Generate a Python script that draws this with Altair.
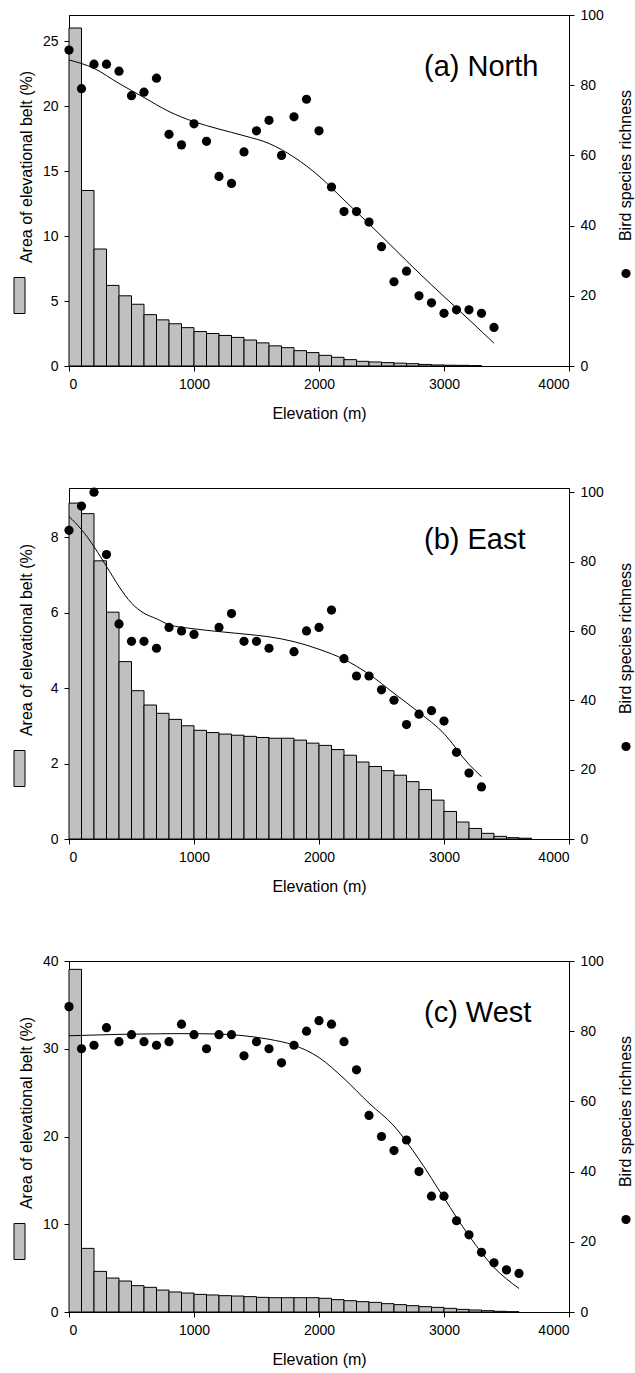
import altair as alt
import pandas as pd

FONT = "Liberation Sans"

# ---------------- data ----------------
# Area of elevational belt (%), 100 m belts starting at 0 m
north_area = [26.0, 13.5, 9.0, 6.2, 5.4, 4.75, 3.95, 3.55, 3.25, 2.95, 2.65, 2.5, 2.35, 2.2,
              2.0, 1.78, 1.55, 1.41, 1.18, 1.03, 0.82, 0.67, 0.49, 0.36, 0.31, 0.26, 0.22,
              0.18, 0.12, 0.08, 0.06, 0.05, 0.03]
east_area = [8.9, 8.62, 7.37, 6.01, 4.70, 3.93, 3.55, 3.33, 3.17, 3.0, 2.88, 2.82, 2.78, 2.75,
             2.72, 2.69, 2.67, 2.67, 2.62, 2.54, 2.48, 2.37, 2.22, 2.04, 1.92, 1.81, 1.69,
             1.52, 1.31, 1.03, 0.73, 0.45, 0.28, 0.15, 0.07, 0.035, 0.02]
west_area = [39.05, 7.25, 4.63, 3.87, 3.53, 3.0, 2.81, 2.5, 2.28, 2.16, 2.01, 1.94, 1.86, 1.82,
             1.75, 1.67, 1.63, 1.63, 1.63, 1.63, 1.56, 1.41, 1.29, 1.18, 1.10, 0.95, 0.84,
             0.72, 0.61, 0.53, 0.42, 0.30, 0.23, 0.15, 0.08, 0.03]

# Bird species richness
north_elev = [0, 100, 200, 300, 400, 500, 600, 700, 800, 900, 1000, 1100, 1200, 1300, 1400,
              1500, 1600, 1700, 1800, 1900, 2000, 2100, 2200, 2300, 2400, 2500, 2600, 2700,
              2800, 2900, 3000, 3100, 3200, 3300, 3400]
north_rich = [90, 79, 86, 86, 84, 77, 78, 82, 66, 63, 69, 64, 54, 52, 61, 67, 70, 60, 71, 76,
              67, 51, 44, 44, 41, 34, 24, 27, 20, 18, 15, 16, 16, 15, 11]
east_elev = [0, 100, 200, 300, 400, 500, 600, 700, 800, 900, 1000, 1200, 1300, 1400, 1500,
             1600, 1800, 1900, 2000, 2100, 2200, 2300, 2400, 2500, 2600, 2700, 2800, 2900,
             3000, 3100, 3200, 3300]
east_rich = [89, 96, 100, 82, 62, 57, 57, 55, 61, 60, 59, 61, 65, 57, 57, 55, 54, 60, 61, 66,
             52, 47, 47, 43, 40, 33, 36, 37, 34, 25, 19, 15]
west_elev = [0, 100, 200, 300, 400, 500, 600, 700, 800, 900, 1000, 1100, 1200, 1300, 1400,
             1500, 1600, 1700, 1800, 1900, 2000, 2100, 2200, 2300, 2400, 2500, 2600, 2700,
             2800, 2900, 3000, 3100, 3200, 3300, 3400, 3500, 3600]
west_rich = [87, 75, 76, 81, 77, 79, 77, 76, 77, 82, 79, 75, 79, 79, 73, 77, 75, 71, 76, 80,
             83, 82, 77, 69, 56, 50, 46, 49, 40, 33, 33, 26, 22, 17, 14, 12, 11]

# Fitted curves
north_fit_x = [0, 200, 400, 600, 800, 1000, 1200, 1400, 1600, 1800, 2000, 2200, 2400, 2600,
               2800, 3000, 3200, 3400]
north_fit_y = [87.2, 84.8, 80.5, 76.5, 72.5, 69.6, 67.5, 65.6, 63.4, 59.5, 54.1, 47.3, 40.5,
               33.5, 26.5, 19.8, 13.2, 6.5]
east_fit_x = [0, 100, 200, 300, 400, 500, 600, 700, 800, 1000, 1200, 1400, 1600, 1800, 2000,
              2200, 2400, 2600, 2800, 3000, 3200, 3300]
east_fit_y = [93.0, 89.2, 84.3, 78.6, 72.8, 68.0, 65.1, 63.5, 61.8, 60.6, 59.8, 59.1, 58.3,
              56.9, 54.7, 51.8, 47.5, 42.0, 36.5, 30.4, 21.5, 18.0]
west_fit_x = [0, 200, 400, 600, 800, 1000, 1200, 1400, 1600, 1800, 2000, 2200, 2400, 2600,
              2800, 3000, 3200, 3400, 3600]
west_fit_y = [78.7, 78.9, 79.1, 79.2, 79.3, 79.3, 79.2, 78.7, 77.7, 76.0, 72.5, 66.5, 59.5,
              53.0, 43.5, 32.5, 21.7, 12.7, 6.7]

x_ticks = [0, 1000, 2000, 3000, 4000]
right_ticks = [0, 20, 40, 60, 80, 100]

W, H = 500, 351


def panel(area, r_x, r_y, f_x, f_y, left_max, left_ticks, right_max, label):
    bars_df = pd.DataFrame({
        "start": [i * 100 for i in range(len(area))],
        "end": [i * 100 + 100 for i in range(len(area))],
        "area": area,
    })
    pts_df = pd.DataFrame({"elev": r_x, "rich": r_y})
    fit_df = pd.DataFrame({"elev": f_x, "rich": f_y})
    one = pd.DataFrame({"k": [0]})

    xscale = alt.Scale(domain=[0, 4000], nice=False, zero=False)
    rscale = alt.Scale(domain=[0, right_max], nice=False)

    bars = alt.Chart(bars_df).mark_rect(
        fill="#c0c0c0", stroke="black", strokeWidth=1, opacity=1
    ).encode(
        x=alt.X("start:Q", scale=xscale,
                axis=alt.Axis(values=x_ticks, title="Elevation (m)", format="d")),
        x2="end:Q",
        y=alt.Y("area:Q", scale=alt.Scale(domain=[0, left_max], nice=False),
                axis=alt.Axis(values=left_ticks, title=None, orient="left")),
        y2=alt.datum(0),
    )

    pts = alt.Chart(pts_df).mark_circle(size=85, color="black", opacity=1).encode(
        x=alt.X("elev:Q", scale=xscale),
        y=alt.Y("rich:Q", scale=rscale,
                axis=alt.Axis(values=right_ticks, title=None, orient="right")),
    )

    fit = alt.Chart(fit_df).mark_line(color="black", strokeWidth=1,
                                      interpolate="monotone").encode(
        x=alt.X("elev:Q", scale=xscale),
        y=alt.Y("rich:Q", scale=rscale, axis=None),
    )

    lab = alt.Chart(one).mark_text(
        text=label, font=FONT, fontSize=29, align="left", baseline="alphabetic",
        color="black"
    ).encode(x=alt.value(355), y=alt.value(61))

    ltitle = alt.Chart(one).mark_text(
        text="Area of elevational belt (%)", font=FONT, fontSize=16, angle=270,
        align="center", baseline="alphabetic", color="black"
    ).encode(x=alt.value(-37), y=alt.value(H / 2 - 23.5))

    lsym = alt.Chart(one).mark_rect(
        fill="#c0c0c0", stroke="black", strokeWidth=1
    ).encode(x=alt.value(-55), x2=alt.value(-44),
             y=alt.value(H / 2 + 87), y2=alt.value(H / 2 + 123))

    rtitle = alt.Chart(one).mark_text(
        text="Bird species richness", font=FONT, fontSize=16, angle=270,
        align="center", baseline="alphabetic", color="black"
    ).encode(x=alt.value(562), y=alt.value(H / 2 - 25))

    rsym = alt.Chart(one).mark_circle(size=85, color="black", opacity=1).encode(
        x=alt.value(557), y=alt.value(H / 2 + 83)
    )

    return alt.layer(bars, pts, fit, lab, ltitle, lsym, rtitle, rsym).resolve_scale(
        y="independent"
    ).properties(width=W, height=H)


pa = panel(north_area, north_elev, north_rich, north_fit_x, north_fit_y,
           27, [0, 5, 10, 15, 20, 25], 100, "(a) North")
pb = panel(east_area, east_elev, east_rich, east_fit_x, east_fit_y,
           9.3, [0, 2, 4, 6, 8], 101.2, "(b) East")
pc = panel(west_area, west_elev, west_rich, west_fit_x, west_fit_y,
           40, [0, 10, 20, 30, 40], 100, "(c) West")

chart = alt.vconcat(pa, pb, pc, spacing=122, bounds="flush").properties(
    padding={"left": 13, "top": 7, "right": 0, "bottom": 0},
    background="white",
).configure_view(
    stroke="black", strokeWidth=1
).configure_axis(
    grid=False,
    labelFont=FONT, labelFontSize=14, labelColor="black",
    titleFont=FONT, titleFontSize=16, titleColor="black", titleFontWeight="normal",
    tickColor="black", domainColor="black", tickSize=5, labelPadding=6,
    titlePadding=14, domainWidth=1, tickWidth=1,
)

chart.save("out.html", embed_options={"renderer": "svg", "actions": False})
